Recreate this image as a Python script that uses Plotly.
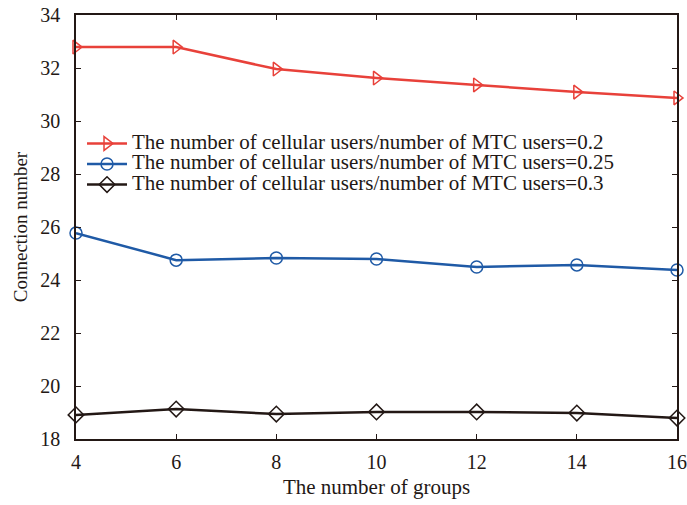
import plotly.graph_objects as go

groups = [4, 6, 8, 10, 12, 14, 16]
ratio_02 = [32.79, 32.79, 31.96, 31.62, 31.36, 31.09, 30.87]
ratio_025 = [25.77, 24.75, 24.83, 24.79, 24.49, 24.57, 24.38]
ratio_03 = [18.91, 19.13, 18.94, 19.02, 19.02, 18.98, 18.79]
names = [
    "The number of cellular users/number of MTC users=0.2",
    "The number of cellular users/number of MTC users=0.25",
    "The number of cellular users/number of MTC users=0.3",
]
x_ticks = [4, 6, 8, 10, 12, 14, 16]
y_ticks = [18, 20, 22, 24, 26, 28, 30, 32, 34]

font = "Liberation Serif, Times New Roman, serif"
ink = "#231815"

fig = go.Figure()
styles = [
    (ratio_02, "#E8413A", "triangle-right-open"),
    (ratio_025, "#1F5AA6", "circle-open"),
    (ratio_03, ink, "diamond-open"),
]
for (vals, color, sym), name in zip(styles, names):
    fig.add_trace(go.Scatter(
        x=groups, y=vals, name='<span style="font-size:21px">' + name + '</span>',
        mode="lines+markers",
        line=dict(color=color, width=2.5),
        marker=dict(symbol=sym, size=12, color=color, line=dict(width=1.5, color=color)),
        cliponaxis=False,
    ))

axis_common = dict(
    showgrid=False, zeroline=False, showline=True, linecolor=ink, linewidth=1.5,
    mirror="ticks", ticks="inside", ticklen=5, tickwidth=1, tickcolor=ink,
    tickfont=dict(family=font, size=20, color=ink), automargin=False,
)
fig.update_xaxes(range=[4, 16], tickvals=x_ticks, ticklabelstandoff=4,
                 title=dict(text="The number of groups", font=dict(family=font, size=21, color=ink), standoff=8),
                 **axis_common)
fig.update_yaxes(range=[18, 34], tickvals=y_ticks, ticklabelstandoff=10,
                 title=dict(text="Connection number", font=dict(family=font, size=19, color=ink), standoff=8),
                 **axis_common)

fig.update_layout(
    width=687, height=505,
    margin=dict(l=76, r=10, t=15, b=66),
    plot_bgcolor="white", paper_bgcolor="white",
    font=dict(family=font, color=ink),
    legend=dict(x=0.01, y=0.733, xanchor="left", yanchor="top",
                bgcolor="rgba(0,0,0,0)", borderwidth=0,
                font=dict(family=font, size=13.5, color=ink),
                tracegroupgap=0, itemwidth=40),
    showlegend=True,
)
fig.write_html("out.html")
